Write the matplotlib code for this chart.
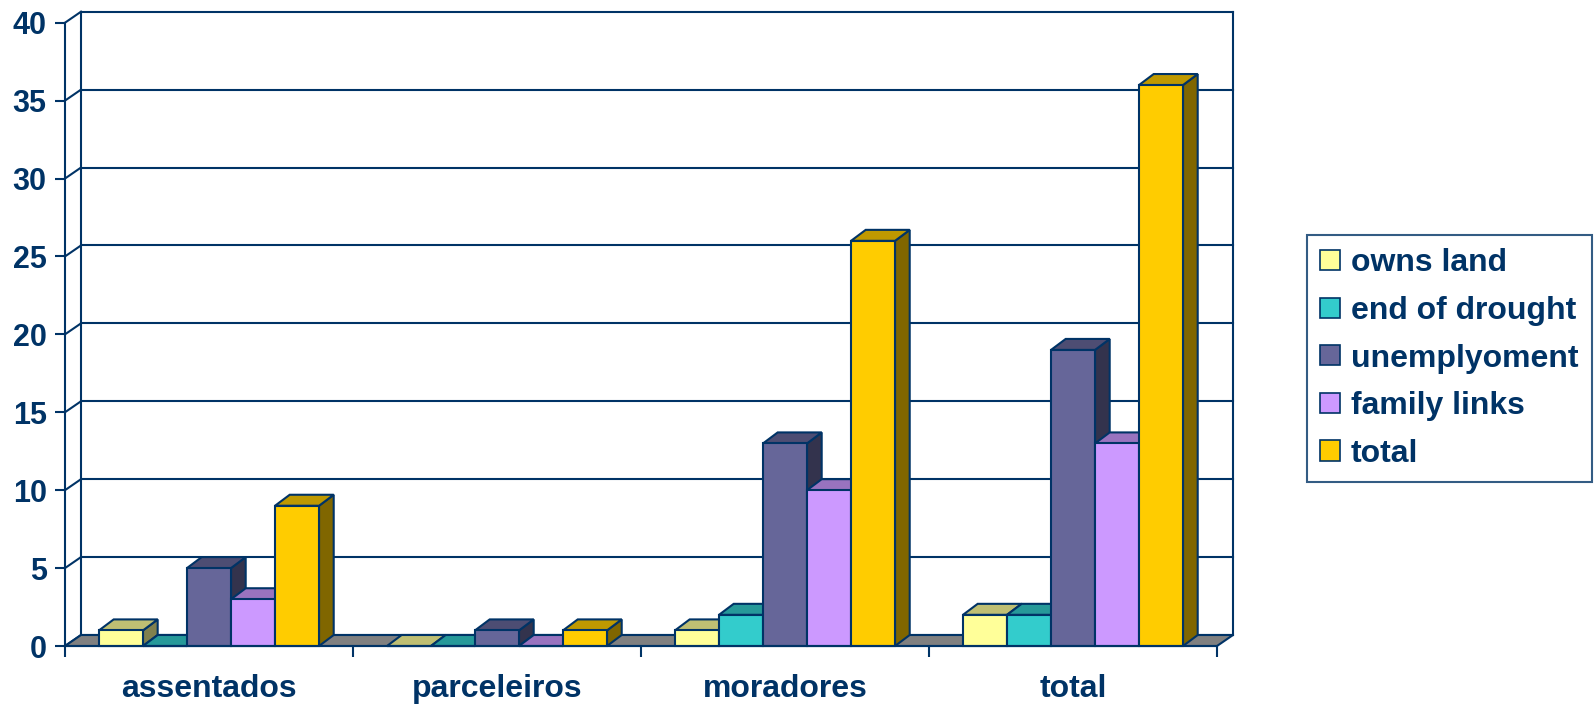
import numpy as np
import matplotlib
matplotlib.use('Agg')
import matplotlib.pyplot as plt
from matplotlib.patches import Polygon, Patch
from matplotlib.colors import to_rgb

plt.rcParams['font.family'] = ['Liberation Sans', 'DejaVu Sans']
plt.rcParams['font.weight'] = 'bold'

# data
categories = ['assentados', 'parceleiros', 'moradores', 'total']
series = ['owns land', 'end of drought', 'unemplyoment', 'family links', 'total']
owns_land = [1, 0, 1, 2]
end_of_drought = [0, 0, 2, 2]
unemployment = [5, 1, 13, 19]
family_links = [3, 0, 10, 13]
total = [9, 1, 26, 36]
data = [owns_land, end_of_drought, unemployment, family_links, total]
colors = ['#FFFF99', '#33CCCC', '#666699', '#CC99FF', '#FFCC00']

navy = '#003366'
lw = 1.5
ymax = 40

# fake 3d depth (in data units)
dxw, dyw = 0.0556, 0.706   # walls / floor
dxb, dyb = 0.051, 0.706    # bars
w = 0.1528                 # bar width
x0 = (1 - 5 * w) / 2


def shade(c, f):
    return tuple(v * f for v in to_rgb(c))


fig = plt.figure(figsize=(15.94, 7.05), dpi=100)
ax = fig.add_axes([65 / 1594, 59 / 705, 1152 / 1594, 623.3 / 705])
ax.set_xlim(0, len(categories))
ax.set_ylim(0, ymax)
ax.patch.set_visible(False)

ncat = len(categories)

# back wall: gridlines + left side wall diagonals
for v in range(0, ymax + 1, 5):
    ax.plot([dxw, ncat + dxw], [v + dyw, v + dyw], color=navy, lw=lw, zorder=1, clip_on=False)
    ax.plot([0, dxw], [v, v + dyw], color=navy, lw=lw, zorder=1, clip_on=False)
ax.plot([dxw, dxw], [dyw, ymax + dyw], color=navy, lw=lw, zorder=1, clip_on=False)
ax.plot([ncat + dxw, ncat + dxw], [dyw, ymax + dyw], color=navy, lw=lw, zorder=1, clip_on=False)

# floor
floor = Polygon([(0, 0), (ncat, 0), (ncat + dxw, dyw), (dxw, dyw)], closed=True,
                facecolor='#808080', edgecolor=navy, lw=lw, zorder=2, clip_on=False)
ax.add_patch(floor)

# bars
for j, (vals, c) in enumerate(zip(data, colors)):
    z = 3 + j * 0.1
    x = np.arange(ncat) + x0 + j * w
    ax.bar(x, vals, width=w, align='edge', color=c, edgecolor=navy, linewidth=lw, zorder=z + 0.02,
           clip_on=False)
    for xi, h in zip(x, vals):
        side = Polygon([(xi + w, 0), (xi + w + dxb, dyb), (xi + w + dxb, h + dyb), (xi + w, h)],
                       closed=True, facecolor=shade(c, 0.5), edgecolor=navy, lw=lw, zorder=z,
                       clip_on=False)
        top = Polygon([(xi, h), (xi + w, h), (xi + w + dxb, h + dyb), (xi + dxb, h + dyb)],
                      closed=True, facecolor=shade(c, 0.75), edgecolor=navy, lw=lw, zorder=z + 0.01,
                      clip_on=False)
        ax.add_patch(side)
        ax.add_patch(top)

# axes styling
for s in ['top', 'right']:
    ax.spines[s].set_visible(False)
for s in ['left', 'bottom']:
    ax.spines[s].set_color(navy)
    ax.spines[s].set_linewidth(lw)
    ax.spines[s].set_zorder(5)

ax.set_yticks(range(0, ymax + 1, 5))
ax.tick_params(axis='y', labelsize=22, colors=navy, length=7.2, width=lw, pad=6)
ax.set_xticks(np.arange(ncat) + 0.5, categories)
ax.tick_params(axis='x', which='major', labelsize=23, colors=navy, length=0, pad=20.5)
ax.set_xticks(range(ncat + 1), minor=True)
ax.tick_params(axis='x', which='minor', length=8, width=lw, color=navy)

# legend
handles = [Patch(facecolor=c, edgecolor=navy, linewidth=1.2) for c in colors]
leg = fig.legend(handles, series, loc='upper left', bbox_to_anchor=(1307 / 1594, 1 - 235 / 705),
                 borderaxespad=0, fontsize=23, frameon=True, fancybox=False,
                 handlelength=0.6, handleheight=0.6, handletextpad=0.35,
                 labelspacing=0.55, borderpad=0.42)
leg.get_frame().set_edgecolor(navy)
leg.get_frame().set_linewidth(lw)
for t in leg.get_texts():
    t.set_color(navy)

fig.savefig('out.png', dpi=100)
